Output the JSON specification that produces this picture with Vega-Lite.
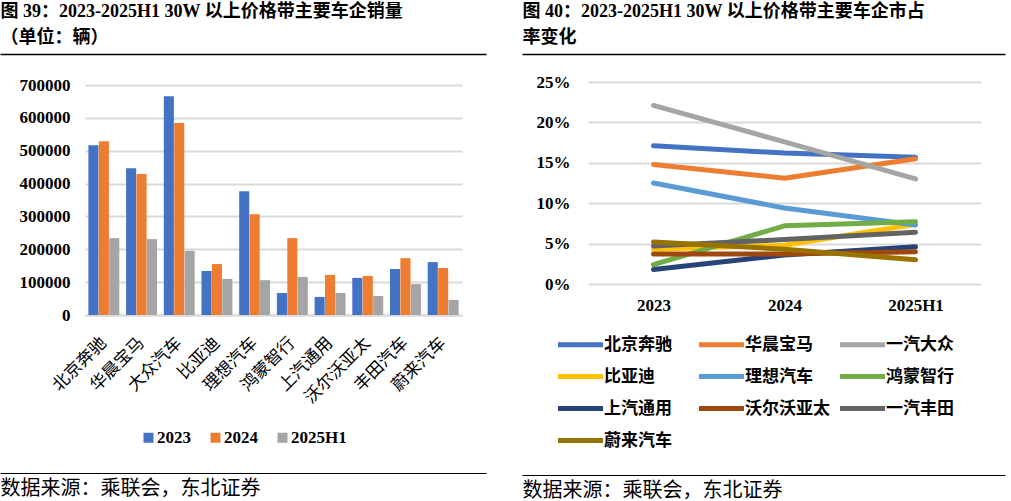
{
  "$schema": "https://vega.github.io/schema/vega-lite/v6.json",
  "padding": {"left": 0, "top": 2, "right": 0, "bottom": 0},
  "background": "white",
  "config": {"view": {"stroke": null}},
  "resolve": {"scale": {"color": "independent", "x": "independent", "y": "independent"}, "legend": {"color": "independent"}},
  "datasets": {
    "blank": [{"v": 0}],
    "sales": [
      {"brand": "北京奔驰", "year": "2023", "sales": 517000},
      {"brand": "北京奔驰", "year": "2024", "sales": 529000},
      {"brand": "北京奔驰", "year": "2025H1", "sales": 234000},
      {"brand": "华晨宝马", "year": "2023", "sales": 447000},
      {"brand": "华晨宝马", "year": "2024", "sales": 429000},
      {"brand": "华晨宝马", "year": "2025H1", "sales": 231000},
      {"brand": "大众汽车", "year": "2023", "sales": 666000},
      {"brand": "大众汽车", "year": "2024", "sales": 584000},
      {"brand": "大众汽车", "year": "2025H1", "sales": 195000},
      {"brand": "比亚迪", "year": "2023", "sales": 134000},
      {"brand": "比亚迪", "year": "2024", "sales": 155000},
      {"brand": "比亚迪", "year": "2025H1", "sales": 110000},
      {"brand": "理想汽车", "year": "2023", "sales": 377000},
      {"brand": "理想汽车", "year": "2024", "sales": 307000},
      {"brand": "理想汽车", "year": "2025H1", "sales": 106000},
      {"brand": "鸿蒙智行", "year": "2023", "sales": 67000},
      {"brand": "鸿蒙智行", "year": "2024", "sales": 234000},
      {"brand": "鸿蒙智行", "year": "2025H1", "sales": 116000},
      {"brand": "上汽通用", "year": "2023", "sales": 55000},
      {"brand": "上汽通用", "year": "2024", "sales": 122000},
      {"brand": "上汽通用", "year": "2025H1", "sales": 67000},
      {"brand": "沃尔沃亚太", "year": "2023", "sales": 113000},
      {"brand": "沃尔沃亚太", "year": "2024", "sales": 119000},
      {"brand": "沃尔沃亚太", "year": "2025H1", "sales": 58000},
      {"brand": "丰田汽车", "year": "2023", "sales": 140000},
      {"brand": "丰田汽车", "year": "2024", "sales": 173000},
      {"brand": "丰田汽车", "year": "2025H1", "sales": 94000},
      {"brand": "蔚来汽车", "year": "2023", "sales": 161000},
      {"brand": "蔚来汽车", "year": "2024", "sales": 143000},
      {"brand": "蔚来汽车", "year": "2025H1", "sales": 46000}
    ],
    "share": [
      {"brand": "北京奔驰", "year": "2023", "share": 0.171},
      {"brand": "北京奔驰", "year": "2024", "share": 0.162},
      {"brand": "北京奔驰", "year": "2025H1", "share": 0.157},
      {"brand": "华晨宝马", "year": "2023", "share": 0.148},
      {"brand": "华晨宝马", "year": "2024", "share": 0.131},
      {"brand": "华晨宝马", "year": "2025H1", "share": 0.155},
      {"brand": "一汽大众", "year": "2023", "share": 0.221},
      {"brand": "一汽大众", "year": "2024", "share": 0.176},
      {"brand": "一汽大众", "year": "2025H1", "share": 0.130},
      {"brand": "比亚迪", "year": "2023", "share": 0.043},
      {"brand": "比亚迪", "year": "2024", "share": 0.048},
      {"brand": "比亚迪", "year": "2025H1", "share": 0.074},
      {"brand": "理想汽车", "year": "2023", "share": 0.125},
      {"brand": "理想汽车", "year": "2024", "share": 0.094},
      {"brand": "理想汽车", "year": "2025H1", "share": 0.073},
      {"brand": "鸿蒙智行", "year": "2023", "share": 0.024},
      {"brand": "鸿蒙智行", "year": "2024", "share": 0.072},
      {"brand": "鸿蒙智行", "year": "2025H1", "share": 0.077},
      {"brand": "上汽通用", "year": "2023", "share": 0.018},
      {"brand": "上汽通用", "year": "2024", "share": 0.036},
      {"brand": "上汽通用", "year": "2025H1", "share": 0.046},
      {"brand": "沃尔沃亚太", "year": "2023", "share": 0.037},
      {"brand": "沃尔沃亚太", "year": "2024", "share": 0.037},
      {"brand": "沃尔沃亚太", "year": "2025H1", "share": 0.040},
      {"brand": "一汽丰田", "year": "2023", "share": 0.047},
      {"brand": "一汽丰田", "year": "2024", "share": 0.055},
      {"brand": "一汽丰田", "year": "2025H1", "share": 0.064},
      {"brand": "蔚来汽车", "year": "2023", "share": 0.052},
      {"brand": "蔚来汽车", "year": "2024", "share": 0.043},
      {"brand": "蔚来汽车", "year": "2025H1", "share": 0.030}
    ]
  },
  "spacing": -49,
  "align": "none",
  "hconcat": [
    {
      "spacing": 21,
      "align": "none",
      "vconcat": [
        {
          "width": 401,
          "height": 1,
          "data": {"name": "blank"},
          "mark": {"type": "rule", "strokeOpacity": 0},
          "encoding": {
            "x": {
              "field": "v", "type": "quantitative", "scale": {"domain": [0, 1], "range": [-85, 401]},
              "axis": {
                "orient": "top", "labels": false, "ticks": false, "grid": false,
                "domainColor": "#000", "domainWidth": 1.5,
                "title": ["图 39：2023-2025H1 30W 以上价格带主要车企销量", "（单位：辆）"],
                "titleAnchor": "start", "titleAlign": "left",
                "titleFont": "Liberation Serif, Noto Sans CJK SC", "titleFontSize": 18,
                "titleFontWeight": "bold", "titleLineHeight": 26, "titlePadding": 8, "titleColor": "#000"
              }
            }
          }
        },
        {
          "spacing": 66,
          "align": "none",
          "vconcat": [
            {
              "width": 377,
              "height": 230,
              "data": {"name": "sales"},
              "mark": {"type": "bar"},
              "encoding": {
                "x": {
                  "field": "brand", "type": "nominal", "sort": null,
                  "scale": {"paddingInner": 0.18, "paddingOuter": 0.09},
                  "axis": {
                    "title": null, "labelAngle": -45, "labelAlign": "right", "labelBaseline": "middle",
                    "labelFont": "Noto Sans CJK SC", "labelFontSize": 17, "labelColor": "#000",
                    "labelPadding": 25, "ticks": false, "domainColor": "#d9d9d9", "domainWidth": 2
                  }
                },
                "xOffset": {"field": "year", "type": "nominal", "sort": null, "scale": {"paddingInner": 0.03}},
                "y": {
                  "field": "sales", "type": "quantitative",
                  "scale": {"domain": [0, 700000]},
                  "axis": {
                    "title": null, "values": [0, 100000, 200000, 300000, 400000, 500000, 600000, 700000],
                    "format": "d", "labelFont": "Liberation Serif", "labelFontSize": 17,
                    "labelFontWeight": "bold", "labelColor": "#000", "labelPadding": 15,
                    "ticks": false, "domain": false, "gridColor": "#d9d9d9", "gridWidth": 2,
                    "minExtent": 85, "maxExtent": 85
                  }
                },
                "color": {
                  "field": "year", "type": "nominal", "sort": null,
                  "scale": {"domain": ["2023", "2024", "2025H1"], "range": ["#4472C4", "#ED7D31", "#A5A5A5"]},
                  "legend": {
                    "title": null, "orient": "none", "legendX": 55, "legendY": 375,
                    "direction": "horizontal", "symbolType": "square", "symbolSize": 100,
                    "symbolStrokeWidth": 0, "labelFont": "Liberation Serif", "labelFontSize": 17,
                    "labelFontWeight": "bold", "labelColor": "#000", "labelOffset": 0,
                    "columnPadding": 16, "padding": 0
                  }
                }
              }
            },
            {
              "width": 401,
              "height": 1,
              "data": {"name": "blank"},
              "mark": {"type": "rule", "strokeOpacity": 0},
              "encoding": {
                "x": {
                  "field": "v", "type": "quantitative", "scale": {"domain": [0, 1], "range": [-85, 401]},
                  "axis": {
                    "orient": "bottom", "labels": false, "ticks": false, "grid": false,
                    "domainColor": "#000", "domainWidth": 1.2,
                    "title": "数据来源：乘联会，东北证券",
                    "titleAnchor": "start", "titleAlign": "left", "titleBaseline": "top",
                    "titleFont": "Noto Sans CJK SC", "titleFontSize": 20,
                    "titleFontWeight": "normal", "titlePadding": 5, "titleColor": "#000"
                  }
                }
              }
            }
          ]
        }
      ]
    },
    {
      "spacing": 18,
      "align": "none",
      "vconcat": [
        {
          "width": 417,
          "height": 1,
          "data": {"name": "blank"},
          "mark": {"type": "rule", "strokeOpacity": 0},
          "encoding": {
            "x": {
              "field": "v", "type": "quantitative", "scale": {"domain": [0, 1], "range": [-66, 417]},
              "axis": {
                "orient": "top", "labels": false, "ticks": false, "grid": false,
                "domainColor": "#000", "domainWidth": 1.5,
                "title": ["图 40：2023-2025H1 30W 以上价格带主要车企市占", "率变化"],
                "titleAnchor": "start", "titleAlign": "left",
                "titleFont": "Liberation Serif, Noto Sans CJK SC", "titleFontSize": 18,
                "titleFontWeight": "bold", "titleLineHeight": 26, "titlePadding": 8, "titleColor": "#000"
              }
            }
          }
        },
        {
          "spacing": 161,
          "align": "none",
          "vconcat": [
            {
              "width": 393,
              "height": 202,
              "data": {"name": "share"},
              "mark": {"type": "line", "strokeWidth": 5, "strokeCap": "round", "strokeJoin": "round"},
              "encoding": {
                "x": {
                  "field": "year", "type": "ordinal", "sort": null,
                  "scale": {"type": "point", "padding": 0.5},
                  "axis": {
                    "title": null, "labelAngle": 0, "labelFont": "Liberation Serif", "labelFontSize": 17,
                    "labelFontWeight": "bold", "labelColor": "#000", "labelPadding": 13,
                    "ticks": false, "domain": false
                  }
                },
                "y": {
                  "field": "share", "type": "quantitative",
                  "scale": {"domain": [0, 0.25]},
                  "axis": {
                    "title": null, "values": [0, 0.05, 0.1, 0.15, 0.2, 0.25], "format": ".0%",
                    "labelFont": "Liberation Serif", "labelFontSize": 17, "labelFontWeight": "bold",
                    "labelColor": "#000", "labelPadding": 18, "ticks": false, "domain": false,
                    "gridColor": "#d9d9d9", "gridWidth": 2, "minExtent": 66, "maxExtent": 66
                  }
                },
                "color": {
                  "field": "brand", "type": "nominal", "sort": null,
                  "scale": {
                    "domain": ["北京奔驰", "华晨宝马", "一汽大众", "比亚迪", "理想汽车", "鸿蒙智行", "上汽通用", "沃尔沃亚太", "一汽丰田", "蔚来汽车"],
                    "range": ["#4472C4", "#ED7D31", "#A5A5A5", "#FFC000", "#5B9BD5", "#70AD47", "#264478", "#9E480E", "#636363", "#997300"]
                  },
                  "legend": {
                    "title": null, "orient": "none", "legendX": -25, "legendY": 273,
                    "direction": "horizontal", "columns": 3, "gridAlign": "all",
                    "symbolType": "M-1.5,0H1.5", "symbolSize": 900,
                    "symbolStrokeWidth": 5, "labelFont": "Noto Sans CJK SC", "labelFontSize": 17,
                    "labelFontWeight": "bold", "labelColor": "#000", "labelOffset": 6,
                    "columnPadding": 0, "rowPadding": 4, "padding": 0
                  }
                }
              }
            },
            {
              "width": 417,
              "height": 1,
              "data": {"name": "blank"},
              "mark": {"type": "rule", "strokeOpacity": 0},
              "encoding": {
                "x": {
                  "field": "v", "type": "quantitative", "scale": {"domain": [0, 1], "range": [-66, 417]},
                  "axis": {
                    "orient": "bottom", "labels": false, "ticks": false, "grid": false,
                    "domainColor": "#000", "domainWidth": 1.2,
                    "title": "数据来源：乘联会，东北证券",
                    "titleAnchor": "start", "titleAlign": "left", "titleBaseline": "top",
                    "titleFont": "Noto Sans CJK SC", "titleFontSize": 20,
                    "titleFontWeight": "normal", "titlePadding": 5, "titleColor": "#000"
                  }
                }
              }
            }
          ]
        }
      ]
    }
  ]
}
